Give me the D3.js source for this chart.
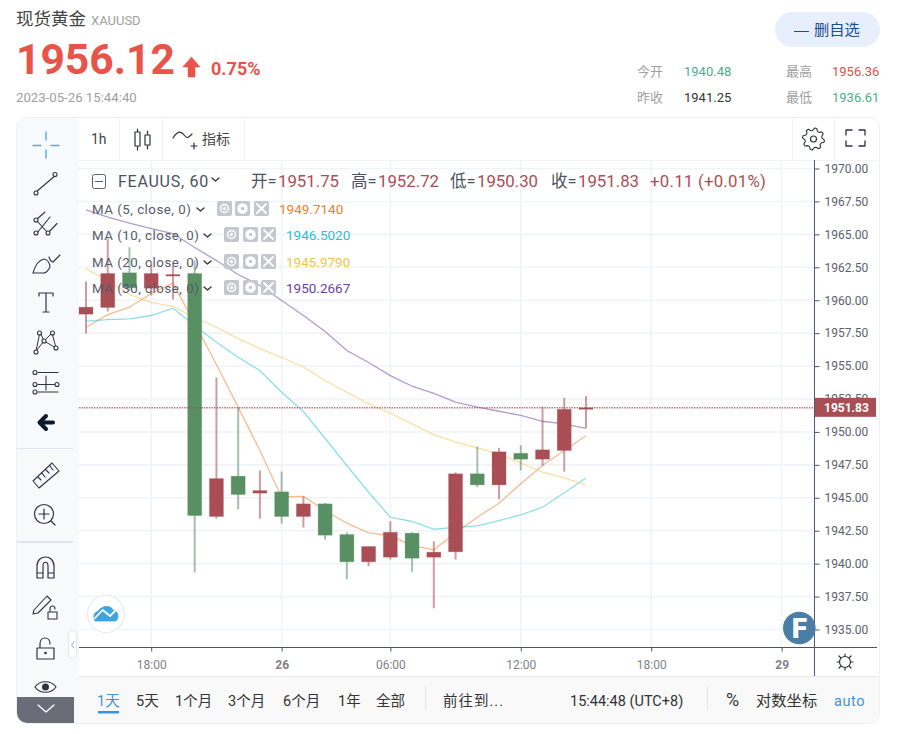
<!DOCTYPE html>
<html>
<head>
<meta charset="utf-8">
<script src="https://cdnjs.cloudflare.com/ajax/libs/d3/7.8.5/d3.min.js"></script>
<style>
  html, body { margin: 0; padding: 0; background: #fff; }
  svg { display: block; }
  text { font-family: Roboto, "Noto Sans CJK SC", sans-serif; }
</style>
</head>
<body>
<div id="chart"></div>
<script>
// values
const opens  = [1958.94,1959.45,1962.08,1960.91,1961.85,1962.03,1943.58,1946.64,1945.35,1945.45,1943.58,1944.54,1942.21,1940.14,1940.49,1942.31,1940.49,1940.90,1946.82,1945.98,1948.38,1947.93,1948.59,1951.75];
const highs  = [1961.42,1964.68,1964.02,1962.89,1962.63,1963.01,1954.13,1951.85,1947.07,1946.99,1945.10,1944.60,1942.38,1941.30,1943.22,1942.38,1941.70,1946.92,1948.89,1948.79,1948.99,1951.93,1952.59,1952.72];
const lows   = [1957.47,1959.16,1960.70,1960.36,1960.05,1939.32,1943.42,1944.13,1943.42,1943.04,1942.74,1941.83,1938.82,1939.80,1940.31,1939.38,1936.61,1940.31,1945.80,1944.89,1947.07,1947.45,1946.99,1950.30];
const closes = [1959.47,1962.03,1960.94,1962.03,1961.95,1943.65,1946.46,1945.25,1945.55,1943.58,1944.54,1942.16,1940.14,1941.30,1942.38,1940.41,1940.87,1946.82,1945.98,1948.49,1947.93,1948.64,1951.72,1951.83];

const ma5  = [1957.95,1958.91,1959.47,1960.51,1961.29,1958.23,1955.12,1951.88,1948.59,1945.04,1945.10,1944.03,1943.07,1942.34,1942.13,1941.37,1941.05,1942.34,1943.52,1944.59,1946.06,1947.45,1948.59,1949.714];
const ma10 = [1958.41,1958.53,1958.59,1958.84,1959.39,1958.08,1956.81,1955.67,1954.66,1953.01,1951.55,1949.50,1947.45,1945.42,1943.52,1943.20,1942.61,1942.76,1942.87,1943.27,1943.71,1944.28,1945.38,1946.502];
const ma20 = [1962.38,1961.50,1960.43,1959.83,1959.54,1958.69,1957.95,1957.09,1956.33,1955.65,1954.93,1953.90,1953.01,1952.13,1951.42,1950.61,1949.80,1949.22,1948.79,1948.34,1947.65,1946.94,1946.51,1945.979];
const ma30 = [1966.86,1966.30,1965.85,1965.44,1965.06,1964.00,1963.01,1961.95,1961.12,1959.98,1958.84,1957.62,1956.18,1955.27,1954.28,1953.47,1952.92,1952.26,1951.88,1951.57,1951.25,1950.81,1950.61,1950.2667];

const priceTicks = [1970,1967.5,1965,1962.5,1960,1957.5,1955,1952.5,1950,1947.5,1945,1942.5,1940,1937.5,1935];
const timeTickBars = [3,9,14,20,26,32];
const timeTickLabels = ['18:00','26','06:00','12:00','18:00','29'];
const lastPrice = 1951.83;

const maNames = ['MA (5, close, 0)','MA (10, close, 0)','MA (20, close, 0)','MA (30, close, 0)'];
const maValues = ['1949.7140','1946.5020','1945.9790','1950.2667'];
const maColors = ['#f08a3c','#3ec6d6','#f6c85f','#7a55a8'];
const maTextColors = ['#f07f26','#2bbfd3','#f6c344','#6b3fa3'];

const rangeLabels = ['1天','5天','1个月','3个月','6个月','1年','全部'];
const rangeX = [97,136,175,228,283,338,376];

const RED = '#a94e55', GREEN = '#588f63';
const W = 899, H = 734;
const plot = { left: 79, right: 814.5, top: 160, bottom: 647.5 };

const svg = d3.select('#chart').append('svg').attr('width', W).attr('height', H);

function label(txt, x, y, size, color, extra) {
  const t = svg.append('text').attr('x', x).attr('y', y)
    .attr('font-size', size).attr('fill', color).text(txt);
  if (extra) Object.keys(extra).forEach(k => t.attr(k, extra[k]));
  return t;
}
function icon(d, color, width, fill) {
  return svg.append('path').attr('d', d)
    .attr('fill', fill || 'none').attr('stroke', color || '#2f3340')
    .attr('stroke-width', width || 1.2).attr('stroke-linecap', 'round').attr('stroke-linejoin', 'round');
}
function node(cx, cy, r) {
  svg.append('circle').attr('cx', cx).attr('cy', cy).attr('r', r || 2)
    .attr('fill', '#f8f9fb').attr('stroke', '#2f3340').attr('stroke-width', 1.1);
}

// page header
label('现货黄金', 16, 25, 17.5, '#444');
label('XAUUSD', 91, 25, 13, '#a0a0a0');
label('1956.12', 16, 74, 42.6, '#e8534a', { 'font-weight': 700 });
icon('M191.5 57 L200 67 L195 67 L195 77 L188 77 L188 67 L183 67 Z', '#e8534a', 0.5, '#e8534a');
label('0.75%', 211, 75, 18, '#e8534a', { 'font-weight': 700 });
label('2023-05-26 15:44:40', 16, 102, 13.2, '#a0a0a0');

svg.append('rect').attr('x', 775).attr('y', 12).attr('width', 105).attr('height', 35).attr('rx', 17.5).attr('fill', '#e8effc');
svg.append('line').attr('x1', 794).attr('x2', 809).attr('y1', 31.5).attr('y2', 31.5).attr('stroke', '#1f4e8c');
label('删自选', 814, 35, 15.3, '#1f4e8c');

label('今开', 637, 76, 13, '#a0a0a0');
label('1940.48', 684, 76, 13, '#4cae88');
label('最高', 786, 76, 13, '#a0a0a0');
label('1956.36', 832, 76, 13, '#d9534a');
label('昨收', 637, 102, 13, '#a0a0a0');
label('1941.25', 684, 102, 13, '#333');
label('最低', 786, 102, 13, '#a0a0a0');
label('1936.61', 832, 102, 13, '#4cae88');

// card and panels
svg.append('rect').attr('x', 16.5).attr('y', 117.5).attr('width', 863).attr('height', 606).attr('rx', 10)
  .attr('fill', '#fff').attr('stroke', '#eef0f3');
svg.append('path').attr('d', 'M17 128 a10 10 0 0 1 10 -10 H79 V723 H27 a10 10 0 0 1 -10 -10 Z').attr('fill', '#f8f9fb');
svg.append('path').attr('d', 'M79 677 H879 V713 a10 10 0 0 1 -10 10 H79 Z').attr('fill', '#f9f9f9');
svg.append('line').attr('x1', 79).attr('x2', 879).attr('y1', 676.5).attr('y2', 676.5).attr('stroke', '#e6e8ec');
svg.append('line').attr('x1', 79).attr('x2', 877).attr('y1', 160.5).attr('y2', 160.5).attr('stroke', '#f0f2f5');
[119.5, 162.5, 244.5, 792.5, 834.5].forEach(x => {
  svg.append('line').attr('x1', x).attr('x2', x).attr('y1', 118).attr('y2', 160).attr('stroke', '#f2f3f6');
});

// scales
const x = d3.scaleLinear().domain([0, 23]).range([86, 586]);
const y = d3.scaleLinear().domain([1970, 1935]).range([168.5, 629.5]);

// grid
const grid = svg.append('g').attr('stroke', '#f0f3f8').attr('stroke-width', 1.6);
grid.selectAll('.h').data(priceTicks).enter().append('line')
  .attr('x1', plot.left).attr('x2', plot.right).attr('y1', d => y(d)).attr('y2', d => y(d));
grid.selectAll('.v').data(timeTickBars).enter().append('line')
  .attr('x1', d => x(d)).attr('x2', d => x(d)).attr('y1', plot.top).attr('y2', plot.bottom);

// moving averages
const line = d3.line().x((d, i) => x(i)).y(d => y(d));
[ma5, ma10, ma20, ma30].forEach((s, i) => {
  svg.append('path').datum(s).attr('d', line).attr('fill', 'none')
    .attr('stroke', maColors[i]).attr('stroke-width', 1.3).attr('opacity', 0.58);
});

// candles
const candles = closes.map((c, i) => ({ i, o: opens[i], h: highs[i], l: lows[i], c }));
const candle = svg.append('g').selectAll('g').data(candles).enter().append('g');
candle.append('line')
  .attr('x1', d => x(d.i)).attr('x2', d => x(d.i))
  .attr('y1', d => y(d.h)).attr('y2', d => y(d.l))
  .attr('stroke', d => d.c >= d.o ? RED : GREEN).attr('stroke-width', 2).attr('opacity', 0.55);
candle.append('rect')
  .attr('x', d => x(d.i) - 7).attr('width', 14)
  .attr('y', d => y(Math.max(d.o, d.c)))
  .attr('height', d => Math.max(1.5, Math.abs(y(d.o) - y(d.c))))
  .attr('fill', d => d.c >= d.o ? RED : GREEN)
  .attr('stroke', d => d.c >= d.o ? RED : GREEN).attr('stroke-opacity', 0.25);

// last price line
svg.append('line').attr('x1', plot.left).attr('x2', plot.right).attr('y1', y(lastPrice)).attr('y2', y(lastPrice))
  .attr('stroke', RED).attr('stroke-width', 1.4).attr('stroke-opacity', 0.75).attr('stroke-dasharray', '1.5,1');

// axes
const yAxis = svg.append('g').attr('transform', `translate(${plot.right},0)`)
  .call(d3.axisRight(y).tickValues(priceTicks).tickSize(5).tickPadding(5).tickFormat(d3.format('.2f')));
yAxis.select('.domain').remove();
yAxis.selectAll('line').attr('stroke', '#50535e');
yAxis.selectAll('text').attr('fill', '#5d6068').attr('font-size', 12).style('font-family', 'Roboto');

const xAxis = svg.append('g').attr('transform', `translate(0,${plot.bottom})`)
  .call(d3.axisBottom(x).tickValues(timeTickBars).tickSize(4).tickPadding(9)
    .tickFormat((d, i) => timeTickLabels[i]));
xAxis.select('.domain').remove();
xAxis.selectAll('line').attr('stroke', '#50535e');
xAxis.selectAll('text').attr('fill', '#808288').attr('font-size', 12).style('font-family', 'Roboto')
  .attr('font-weight', (d, i) => timeTickLabels[i].length === 2 ? 700 : 400);

svg.append('line').attr('x1', plot.left).attr('x2', 877).attr('y1', plot.bottom).attr('y2', plot.bottom).attr('stroke', '#50535e');
svg.append('line').attr('x1', plot.right).attr('x2', plot.right).attr('y1', plot.top).attr('y2', 676).attr('stroke', '#50587a');

// last price tag sits on top of the 1952.50 label, as in the reference
svg.append('rect').attr('x', 815).attr('y', y(lastPrice) - 10).attr('width', 61).attr('height', 19).attr('fill', RED);
label('1951.83', 824, y(lastPrice) + 4.5, 12, '#fff', { 'font-weight': 700 });

// chart legend
svg.append('rect').attr('x', 92.5).attr('y', 174.5).attr('width', 13).attr('height', 14).attr('rx', 2).attr('fill', 'none').attr('stroke', '#5a5f6e');
svg.append('line').attr('x1', 95).attr('x2', 103).attr('y1', 181.5).attr('y2', 181.5).attr('stroke', '#5a5f6e');
label('FEAUUS, 60', 118, 187, 16, '#4a5264', { 'letter-spacing': 0.75 });
icon('M212 178 L215.5 181 L219 178', '#333', 1.3);
[['开','1951.75',251],['高','1952.72',351],['低','1950.30',450],['收','1951.83',551]].forEach(p => {
  label(p[0] + '=', p[2], 187, 16.5, '#4a5264');
  label(p[1], p[2] + 27, 187, 16.8, RED);
});
label('+0.11 (+0.01%)', 650, 187, 16.8, RED, { 'letter-spacing': 0.25 });

const rowY = [214, 240, 267, 293];
const iconX = [[217,235,254],[224,243,261],[224,243,261],[224,243,261]];
const chevronX = [197,204,204,204];
const valueX = [279,286,286,286];
maNames.forEach((name, i) => {
  label(name, 92, rowY[i], 13.3, '#565b68', { 'letter-spacing': 0.5 });
  icon(`M${chevronX[i]} ${rowY[i] - 6} l3.5 3 l3.5 -3`, '#333', 1.3);
  iconX[i].forEach((ix, k) => {
    svg.append('rect').attr('x', ix).attr('y', rowY[i] - 13).attr('width', 15).attr('height', 15).attr('rx', 2).attr('fill', '#c5c7ce');
    if (k === 2) {
      icon(`M${ix + 3} ${rowY[i] - 10} l9 9 m0 -9 l-9 9`, '#fff', 1.8);
    } else {
      svg.append('circle').attr('cx', ix + 7.5).attr('cy', rowY[i] - 5.5).attr('r', k === 0 ? 4 : 4.5)
        .attr('fill', k === 0 ? 'none' : '#fff').attr('stroke', '#fff').attr('stroke-width', 1.5);
      svg.append('circle').attr('cx', ix + 7.5).attr('cy', rowY[i] - 5.5).attr('r', 1.7).attr('fill', k === 0 ? '#fff' : '#c5c7ce');
    }
  });
  label(maValues[i], valueX[i], rowY[i], 13.5, maTextColors[i]);
});

// logos over the chart
svg.append('circle').attr('cx', 106).attr('cy', 614).attr('r', 18.5).attr('fill', '#fff').attr('stroke', '#e8eaee').attr('stroke-width', 1.2);
icon('M95 621 C92 615 95 612 98 611 C102 605 111 605 113 610 C118 610 120 618 116 621 Z', '#3fa3e0', 0.5, '#3fa3e0');
icon('M95 618 L102.7 610 L110 616 L115 611', '#fff', 1.8);
svg.append('circle').attr('cx', 799.3).attr('cy', 628).attr('r', 16.3).attr('fill', '#4a7ea6');
label('F', 799.5, 638, 28, '#fff', { 'font-weight': 900, 'text-anchor': 'middle' });

// left toolbar
icon('M46 132 V140 M46 150 V158 M33 145.5 H41 M51 145.5 H59', '#5aa9e6', 1.4);
icon('M36 192 L56 175', '#2f3340', 1.1);
node(36, 193); node(55, 174.5);
icon('M36 220 L45 212 M50 217 L37 233 M48 233 L57 223.5 M36 220 L48 233', '#2f3340', 1.1);
node(36, 220); node(36, 233); node(48, 233);
icon('M33 273 C35 266 39 260 44 259 C47 259 50 263 50 267 C48 271 45 273 43.5 273 Z M49 257 C50 260 52 262 53 262 L60 255', '#2f3340', 1.1);
icon('M39 296 V293 H53 V296 M46 293 V312 M43 312 H49', '#2f3340', 1.2);
icon('M36 351 L40 332 L44 341 L52 333 L56 348 L44 341 L36 351', '#2f3340', 1);
[[36,352],[39.5,333],[44,341],[52.5,333],[56,348]].forEach(p => node(p[0], p[1]));
icon('M38 372.5 H58 M38 384.5 H55 M38 392 H58 M46 376 V390', '#2f3340', 1.1);
[[35,372.5],[35,384.5],[57,384.5],[35,392]].forEach(p => node(p[0], p[1]));
icon('M53 422.5 H41 M46 416 L39.5 422.5 L46 429', '#10182c', 4);
svg.append('line').attr('x1', 17).attr('x2', 73).attr('y1', 448.5).attr('y2', 448.5).attr('stroke', '#e2e4ee');
svg.append('line').attr('x1', 17).attr('x2', 73).attr('y1', 542).attr('y2', 542).attr('stroke', '#e2e4ee').attr('stroke-width', 2);
icon('M33 481 L52 463 L59 471 L39 488 Z M38 477 L41 480 M42 473 L45 477 M46 470 L49 473 M50 466 L53 470', '#2f3340', 1.1);
svg.append('circle').attr('cx', 44).attr('cy', 514).attr('r', 9.5).attr('fill', 'none').attr('stroke', '#2f3340').attr('stroke-width', 1.2);
icon('M39 514 H49 M44 509 V519 M51 521 L55 525', '#2f3340', 1.2);
icon('M37 578 V566 C37 554 54 554 54 566 V578 H48 V566 C48 561 43 561 43 566 V578 Z M37 573 H43 M48 573 H54', '#2f3340', 1.2);
icon('M34 610 L47 596 L51 600 L38 613 L33 614 Z', '#2f3340', 1.1);
icon('M48 612 H57 V619 H48 Z M50 612 V609 C50 605 55 605 55 609', '#2f3340', 1.1);
icon('M37 648 H54 V659 H37 Z M40 648 V644 C40 636 50 636 50 644', '#2f3340', 1.2);
svg.append('circle').attr('cx', 45.5).attr('cy', 653).attr('r', 1.3).attr('fill', '#2f3340');
svg.append('rect').attr('x', 68.5).attr('y', 630.5).attr('width', 8).attr('height', 28).attr('rx', 4).attr('fill', '#fff').attr('stroke', '#e3e5ea');
icon('M74 642 L71.5 645 L74 648', '#999', 0.9);
icon('M35 687 C40 680 51 680 56 687 C51 694 40 694 35 687 Z', '#2f3340', 1.2);
svg.append('circle').attr('cx', 45.5).attr('cy', 687).attr('r', 3.5).attr('fill', '#2f3340');
svg.append('path').attr('d', 'M17 697 H74 V723 H27 a10 10 0 0 1 -10 -10 Z').attr('fill', '#6a6d78');
icon('M38 705 L46 712 L54 705', '#fff', 1.3);

// top toolbar
label('1h', 91, 144, 14, '#444');
icon('M135 132 H140 V146 H135 Z M137.5 129 V132 M137.5 146 V150 M145 135 H150 V145 H145 Z M147.5 131 V135 M147.5 145 V149', '#2f3340', 1.2);
icon('M173 138 C178 130 181 131 185 136 C187 139 189 137 192 134 M191 146 H197 M194 143 V149', '#2f3340', 1.2);
label('指标', 202, 144, 14, '#444');
// gear outline, eight teeth
const gearPts = d3.range(0, 32).map(k => {
  const a = (k + 0.5) * Math.PI / 16;
  const r = (k % 4 < 2) ? 11 : 8.6;
  return [813.5 + r * Math.cos(a), 139 + r * Math.sin(a)];
});
svg.append('path').attr('d', d3.line().curve(d3.curveLinearClosed)(gearPts))
  .attr('fill', 'none').attr('stroke', '#2f3340').attr('stroke-width', 1.1).attr('stroke-linejoin', 'round');
svg.append('circle').attr('cx', 813.5).attr('cy', 139).attr('r', 3).attr('fill', 'none').attr('stroke', '#2f3340').attr('stroke-width', 1.2);
icon('M846 135 V130 H852 M859 130 H865 V135 M865 141 V146 H859 M852 146 H846 V141', '#2f3340', 1.3);

// sun button
svg.append('circle').attr('cx', 845).attr('cy', 662).attr('r', 5.5).attr('fill', 'none').attr('stroke', '#2f3340').attr('stroke-width', 1.2);
icon('M845 654 V656 M845 668 V670 M837 662 H839 M851 662 H853 M839 656 L840.5 657.5 M851 656 L849.5 657.5 M839 668 L840.5 666.5 M851 668 L849.5 666.5', '#2f3340', 1.2);

// bottom bar
rangeLabels.forEach((d, i) => label(d, rangeX[i], 706, 14.5, i === 0 ? '#3a93dd' : '#333'));
svg.append('rect').attr('x', 98).attr('y', 711).attr('width', 21).attr('height', 2.5).attr('fill', '#3a93dd');
[425.5, 707.5].forEach(px => svg.append('line').attr('x1', px).attr('x2', px).attr('y1', 686).attr('y2', 710).attr('stroke', '#e3e5e8'));
label('前往到...', 443, 706, 14.5, '#333', { 'letter-spacing': 1 });
label('15:44:48 (UTC+8)', 570, 706, 14.5, '#333');
label('%', 726, 706, 18, '#333');
label('对数坐标', 756, 706, 15.3, '#333');
label('auto', 834, 706, 14.5, '#3a93dd', { 'letter-spacing': 0.6 });
</script>
</body>
</html>
